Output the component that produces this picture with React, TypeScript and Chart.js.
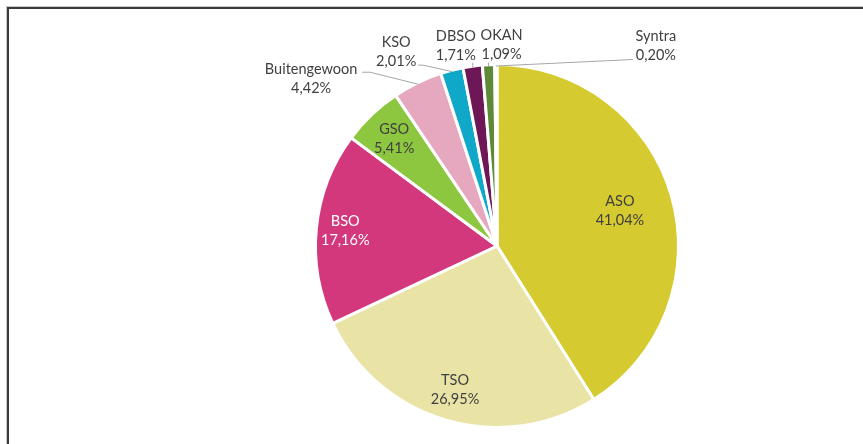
import React, { useEffect, useRef } from "react";
import { Chart, registerables } from "chart.js";

Chart.register(...registerables);

// ---- data ----
const categories = ["ASO", "TSO", "BSO", "GSO", "Buitengewoon", "KSO", "DBSO", "OKAN", "Syntra"];
const shares = [41.04, 26.95, 17.16, 5.41, 4.42, 2.01, 1.71, 1.09, 0.2];
const sliceColors = [
  "#D5CB31",
  "#E9E4A6",
  "#D4387C",
  "#8DC63F",
  "#E6A8BF",
  "#10A8C8",
  "#6D1756",
  "#5E8A37",
  "#B5B5B5",
];

// ---- label layout (style only) ----
type InsideLayout = { kind: "inside"; r: number; color: string };
type OutsideLayout = {
  kind: "outside";
  text: [number, number];
  leader: [number, number][];
};
const labelLayout: (InsideLayout | OutsideLayout)[] = [
  { kind: "inside", r: 0.705, color: "#404040" },
  { kind: "inside", r: 0.825, color: "#404040" },
  { kind: "inside", r: 0.84, color: "#FFFFFF" },
  { kind: "inside", r: 0.82, color: "#404040" },
  { kind: "outside", text: [-107, -5], leader: [[-48, -12], [-56, -12]] },
  { kind: "outside", text: [-56, -20], leader: [[-29, -6.5], [-34, -6.5]] },
  { kind: "outside", text: [-17, -22], leader: [[0, -5]] },
  { kind: "outside", text: [13, -21], leader: [[0, -3.5]] },
  { kind: "outside", text: [160, -20.5], leader: [[137, -6.5]] },
];

const fmtPct = (v: number) => v.toFixed(2).replace(".", ",") + "%";

const FONT = "14.5px Lato, 'Open Sans', sans-serif";
const LINE_GAP = 19;

const labelPlugin = {
  id: "pieLabels",
  afterDatasetsDraw(chart: any) {
    const ctx: CanvasRenderingContext2D = chart.ctx;
    const meta = chart.getDatasetMeta(0);
    ctx.save();
    ctx.font = FONT;
    ctx.textAlign = "center";
    ctx.textBaseline = "middle";
    meta.data.forEach((arc: any, i: number) => {
      const { x, y, startAngle, endAngle, outerRadius } = arc.getProps(
        ["x", "y", "startAngle", "endAngle", "outerRadius"],
        true
      );
      const mid = (startAngle + endAngle) / 2;
      const lay = labelLayout[i];
      let cx: number;
      let cy: number;
      let color = "#404040";
      if (lay.kind === "inside") {
        cx = x + Math.cos(mid) * outerRadius * lay.r;
        cy = y + Math.sin(mid) * outerRadius * lay.r;
        color = lay.color;
      } else {
        const ex = x + Math.cos(mid) * (outerRadius - 1.5);
        const ey = y + Math.sin(mid) * (outerRadius - 1.5);
        ctx.strokeStyle = "#A6A6A6";
        ctx.lineWidth = 1;
        ctx.beginPath();
        ctx.moveTo(ex, ey);
        lay.leader.forEach(([dx, dy]) => ctx.lineTo(ex + dx, ey + dy));
        ctx.stroke();
        cx = ex + lay.text[0];
        cy = ey + lay.text[1];
      }
      ctx.fillStyle = color;
      ctx.fillText(categories[i], cx, cy - LINE_GAP / 2);
      ctx.fillText(fmtPct(shares[i]), cx, cy + LINE_GAP / 2);
    });
    ctx.restore();
  },
};

function PieChart() {
  const ref = useRef<HTMLCanvasElement | null>(null);
  useEffect(() => {
    if (!ref.current) return;
    const chart = new Chart(ref.current, {
      type: "pie",
      data: {
        labels: categories,
        datasets: [
          {
            data: shares,
            backgroundColor: sliceColors,
            borderColor: "#FFFFFF",
            borderWidth: 3,
          },
        ],
      },
      options: {
        responsive: false,
        animation: false,
        layout: { padding: { left: 314, right: 183, top: 63, bottom: 15 } },
        plugins: {
          legend: { display: false },
          tooltip: { enabled: false },
        },
      },
      plugins: [labelPlugin],
    });
    return () => chart.destroy();
  }, []);
  return <canvas ref={ref} width={863} height={444} style={{ position: "absolute", left: 0, top: 0 }} />;
}

export default function App() {
  return (
    <div
      style={{
        position: "fixed",
        left: 0,
        top: 0,
        width: 863,
        height: 444,
        overflow: "hidden",
        background: "#FFFFFF",
      }}
    >
      <div
        style={{
          position: "absolute",
          left: 7,
          top: 7,
          width: 1000,
          height: 1000,
          borderTop: "2px solid #3A3A3A",
          borderLeft: "2px solid #3A3A3A",
          boxShadow: "-1px -1px 0 0 #C8C8C8",
        }}
      />
      <PieChart />
    </div>
  );
}
